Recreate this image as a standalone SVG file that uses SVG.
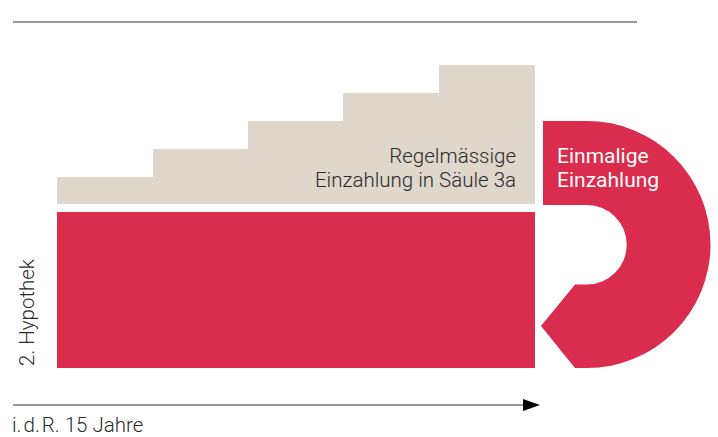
<svg xmlns="http://www.w3.org/2000/svg" width="718" height="437" viewBox="0 0 718 437">
<style>
.beige{fill:#dfd6cc}
.red{fill:#da2c4c}
.lbl{font-family:Roboto,"Liberation Sans",sans-serif;font-size:20.5px;font-weight:300;fill:#2b2b2b}
.wlbl{font-family:Roboto,"Liberation Sans",sans-serif;font-size:21px;font-weight:400;fill:#ffffff}
</style>
<defs>
<marker id="ah" markerWidth="17" markerHeight="12" refX="0" refY="6" orient="auto" markerUnits="userSpaceOnUse">
<path d="M0,0 L17,6 L0,12 Z" fill="#000"/>
</marker>
</defs>
<rect width="718" height="437" fill="#fff"/>
<line x1="13" y1="22" x2="637" y2="22" stroke="#333" stroke-width="1.2"/>
<g id="regelmaessige">
<path class="beige" d="M57,204 L57,177 L153,177 L153,149 L248,149 L248,121 L343,121 L343,93 L439,93 L439,65 L535,65 L535,204 Z"/>
<text class="lbl" text-anchor="end" x="516" y="163">Regelmässige</text>
<text class="lbl" text-anchor="end" x="516" y="187">Einzahlung in Säule 3a</text>
</g>
<g id="hypothek">
<rect class="red" x="57" y="212" width="478" height="156"/>
<text class="lbl" transform="translate(34,366) rotate(-90)">2. Hypothek</text>
</g>
<g id="einmalige">
<path class="red" d="M543,121 L587,121 A123.5,123.5 0 0 1 587,368 L575,368 L541,326 L575,284.5 L587,284.5 A39.75,39.75 0 0 0 587,205 L543,205 Z"/>
<text class="wlbl" x="557" y="163">Einmalige</text>
<text class="wlbl" x="557" y="187">Einzahlung</text>
</g>
<g id="connectors">
<line x1="13" y1="405" x2="523" y2="405" stroke="#333" stroke-width="1.2" marker-end="url(#ah)"/>
</g>
<text class="lbl" x="12" y="432"><tspan word-spacing="-3">i. d. R.</tspan> 15 Jahre</text>
</svg>
